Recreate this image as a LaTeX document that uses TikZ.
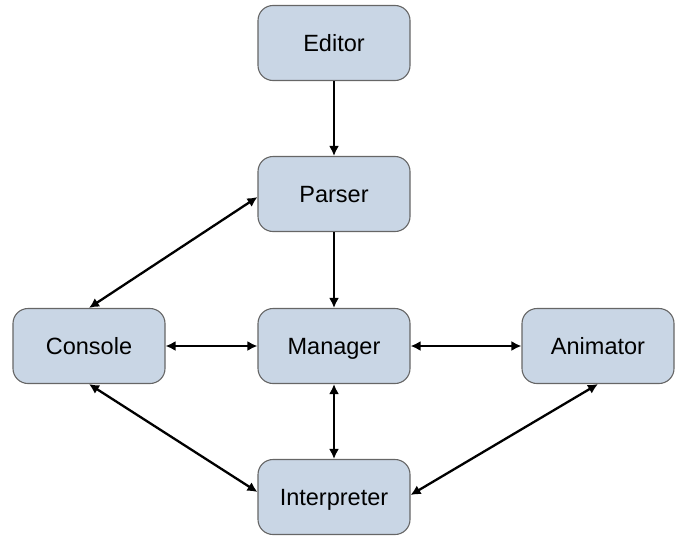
\documentclass[tikz,border=0pt]{standalone}
\usepackage{fontspec}
\setmainfont{Liberation Sans}
\usetikzlibrary{arrows.meta}
\begin{document}
\begin{tikzpicture}[x=1pt,y=-1pt,
  box/.style={draw=black!60,line width=1.1pt,fill={rgb,255:red,201;green,214;blue,229},rounded corners=15pt,minimum width=152pt,minimum height=75pt,font=\fontsize{23.5}{27}\selectfont,inner sep=0pt,text height=17pt,text depth=0pt},
  tip/.tip={Latex[length=10pt,width=10pt]},
  conn/.style={line width=2.3pt,-tip},
  bconn/.style={line width=2.3pt,tip-tip}]
\useasboundingbox (0,0) rectangle (684,538);
\node[box] (editor) at (334,43) {Editor};
\node[box] (parser) at (334,194) {Parser};
\node[box] (console) at (89,346) {Console};
\node[box] (manager) at (334,346) {Manager};
\node[box] (animator) at (598,346) {Animator};
\node[box] (interp) at (334,497) {Interpreter};
\draw[conn] (editor) -- (parser);
\draw[conn] (parser) -- (manager);
\draw[bconn] (parser.west |- 0,197) -- (console.north);
\draw[bconn] (console) -- (manager);
\draw[bconn] (manager) -- (animator);
\draw[bconn] (manager) -- (interp);
\draw[bconn] (console.south) -- (interp.west |- 0,492);
\draw[bconn] (animator.south) -- (interp.east |- 0,495);
\end{tikzpicture}
\end{document}
